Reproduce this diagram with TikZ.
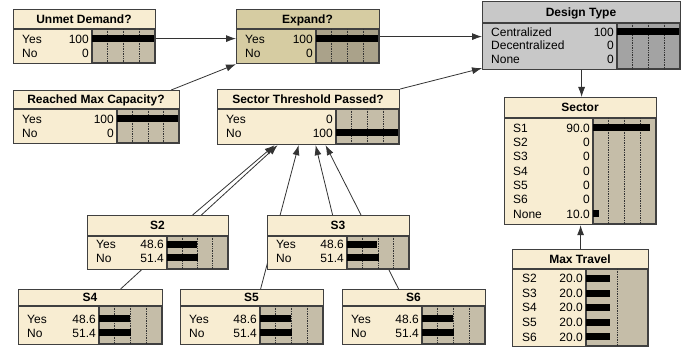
\documentclass[tikz,border=0pt]{standalone}
\usepackage{fontspec}
\setmainfont{Liberation Sans}
\usetikzlibrary{arrows.meta}
\usetikzlibrary{backgrounds}
\definecolor{paper}{RGB}{248,237,210}
\definecolor{barbg}{RGB}{197,189,168}
\definecolor{khaki}{RGB}{214,204,162}
\definecolor{khakibar}{RGB}{170,162,138}
\definecolor{greybox}{RGB}{200,200,200}
\definecolor{greybar}{RGB}{163,163,163}
\definecolor{rim}{RGB}{64,64,64}

\begin{document}
\begin{tikzpicture}[x=1pt,y=-1pt,font=\fontsize{12}{14}\selectfont,>={Latex[length=10pt,width=7pt]}]
		\tikzstyle{netnode}=[draw=rim,line width=1.2pt,fill=paper,inner sep=0pt,anchor=north west]
		\tikzstyle{title}=[anchor=base,inner sep=0pt,font=\fontsize{12}{14}\selectfont\bfseries]
		\tikzstyle{state}=[anchor=base west,inner sep=0pt]
		\tikzstyle{value}=[anchor=base east,inner sep=0pt]
		\tikzstyle{barbox}=[fill=barbg,draw=rim,line width=1.2pt]
		\tikzstyle{rule}=[draw=rim,line width=1.2pt]
		\tikzstyle{grid}=[densely dotted,line width=0.7pt,black!80]
		\tikzstyle{link}=[->,line width=0.8pt,draw=black!80]
		\useasboundingbox (0,0) rectangle (686,352);
		
		% Unmet Demand?
		\node[netnode,minimum width=142pt,minimum height=54pt](ud) at (13,9){};
		\draw[rule] (13,29) -- (155,29);
		\filldraw[barbox] (92,29) rectangle (155,63);
		\draw[grid] (107.75,29) -- (107.75,63);
		\draw[grid] (123.5,29) -- (123.5,63);
		\draw[grid] (139.25,29) -- (139.25,63);
		\fill (92,35.5) rectangle (154.4,42.5);
		\node[title](udt) at (84,23.3){Unmet Demand?};
		\node[state](ud1) at (22,43.3){Yes};
		\node[value](ud1v) at (89,43.3){100};
		\node[state](ud2) at (22,57.3){No};
		\node[value](ud2v) at (89,57.3){0};
		
		% Expand?
		\node[netnode,fill=khaki,minimum width=143pt,minimum height=54pt](ex) at (236,9){};
		\draw[rule] (236,29) -- (379,29);
		\filldraw[barbox,fill=khakibar] (316,29) rectangle (379,63);
		\draw[grid] (331.75,29) -- (331.75,63);
		\draw[grid] (347.5,29) -- (347.5,63);
		\draw[grid] (363.25,29) -- (363.25,63);
		\fill (316,35.5) rectangle (378.4,42.5);
		\node[title](ext) at (307.5,23.3){Expand?};
		\node[state](ex1) at (245,43.3){Yes};
		\node[value](ex1v) at (313,43.3){100};
		\node[state](ex2) at (245,57.3){No};
		\node[value](ex2v) at (313,57.3){0};
		
		% Design Type
		\node[netnode,fill=greybox,minimum width=198pt,minimum height=68pt](dt) at (482,1){};
		\draw[rule] (482,23) -- (680,23);
		\filldraw[barbox,fill=greybar] (617,23) rectangle (680,69);
		\draw[grid] (632.75,23) -- (632.75,69);
		\draw[grid] (648.5,23) -- (648.5,69);
		\draw[grid] (664.25,23) -- (664.25,69);
		\fill (617,28.5) rectangle (679.4,35.5);
		\node[title](dtt) at (581,16.3){Design Type};
		\node[state](dt1) at (491,36.3){Centralized};
		\node[value](dt1v) at (614,36.3){100};
		\node[state](dt2) at (491,49.8){Decentralized};
		\node[value](dt2v) at (614,49.8){0};
		\node[state](dt3) at (491,63.3){None};
		\node[value](dt3v) at (614,63.3){0};
		
		% Reached Max Capacity?
		\node[netnode,minimum width=166pt,minimum height=53pt](rm) at (13,90){};
		\draw[rule] (13,109) -- (179,109);
		\filldraw[barbox] (117,109) rectangle (179,143);
		\draw[grid] (132.5,109) -- (132.5,143);
		\draw[grid] (148,109) -- (148,143);
		\draw[grid] (163.5,109) -- (163.5,143);
		\fill (117,115.5) rectangle (178.4,122.5);
		\node[title](rmt) at (96,103.8){Reached Max Capacity?};
		\node[state](rm1) at (22,123.3){Yes};
		\node[value](rm1v) at (114,123.3){100};
		\node[state](rm2) at (22,137.3){No};
		\node[value](rm2v) at (114,137.3){0};
		
		% Sector Threshold Passed?
		\node[netnode,minimum width=182pt,minimum height=55pt](th) at (217,89){};
		\draw[rule] (217,109) -- (399,109);
		\filldraw[barbox] (336,109) rectangle (399,144);
		\draw[grid] (351.75,109) -- (351.75,144);
		\draw[grid] (367.5,109) -- (367.5,144);
		\draw[grid] (383.25,109) -- (383.25,144);
		\fill (336,129.5) rectangle (398.4,136.5);
		\node[title](tht) at (308,103.3){Sector Threshold Passed?};
		\node[state](th1) at (226,123.3){Yes};
		\node[value](th1v) at (333,123.3){0};
		\node[state](th2) at (226,137.3){No};
		\node[value](th2v) at (333,137.3){100};
		
		% Sector
		\node[netnode,minimum width=152pt,minimum height=127pt](se) at (504,97){};
		\draw[rule] (504,118) -- (656,118);
		\filldraw[barbox] (593,118) rectangle (656,224);
		\draw[grid] (608.75,118) -- (608.75,224);
		\draw[grid] (624.5,118) -- (624.5,224);
		\draw[grid] (640.25,118) -- (640.25,224);
		\fill (593,124.5) rectangle (649.7,131.5);
		\fill (593,210.3) rectangle (599.3,217.3);
		\node[title](set) at (580,111.8){Sector};
		\node[state](se1) at (513,132.3){S1};
		\node[value](se1v) at (590,132.3){90.0};
		\node[state](se2) at (513,146.6){S2};
		\node[value](se2v) at (590,146.6){0};
		\node[state](se3) at (513,160.9){S3};
		\node[value](se3v) at (590,160.9){0};
		\node[state](se4) at (513,175.2){S4};
		\node[value](se4v) at (590,175.2){0};
		\node[state](se5) at (513,189.5){S5};
		\node[value](se5v) at (590,189.5){0};
		\node[state](se6) at (513,203.8){S6};
		\node[value](se6v) at (590,203.8){0};
		\node[state](se7) at (513,218.1){None};
		\node[value](se7v) at (590,218.1){10.0};
		
		% Max Travel
		\node[netnode,minimum width=136pt,minimum height=97pt](mt) at (512,249){};
		\draw[rule] (512,269) -- (648,269);
		\filldraw[barbox] (586,269) rectangle (648,346);
		\draw[grid] (617,269) -- (617,346);
		\fill (586,275) rectangle (610,282);
		\fill (586,289.6) rectangle (610,296.6);
		\fill (586,304.2) rectangle (610,311.2);
		\fill (586,318.8) rectangle (610,325.8);
		\fill (586,333.4) rectangle (610,340.4);
		\node[title](mtt) at (580,263.3){Max Travel};
		\node[state](mt1) at (522,282.8){S2};
		\node[value](mt1v) at (583,282.8){20.0};
		\node[state](mt2) at (522,297.4){S3};
		\node[value](mt2v) at (583,297.4){20.0};
		\node[state](mt3) at (522,312){S4};
		\node[value](mt3v) at (583,312){20.0};
		\node[state](mt4) at (522,326.6){S5};
		\node[value](mt4v) at (583,326.6){20.0};
		\node[state](mt5) at (522,341.2){S6};
		\node[value](mt5v) at (583,341.2){20.0};
		
		% S2
		\node[netnode,minimum width=141pt,minimum height=54pt](s2) at (87,215){};
		\draw[rule] (87,236) -- (228,236);
		\filldraw[barbox] (167,236) rectangle (228,269);
		\draw[grid] (182.25,236) -- (182.25,269);
		\draw[grid] (197.5,236) -- (197.5,269);
		\draw[grid] (212.75,236) -- (212.75,269);
		\fill (167,241) rectangle (196.6,248);
		\fill (167,254.5) rectangle (198.4,261.5);
		\node[title](s2t) at (157.5,229.8){S2};
		\node[state](s21) at (96,248.8){Yes};
		\node[value](s21v) at (164,248.8){48.6};
		\node[state](s22) at (96,262.3){No};
		\node[value](s22v) at (164,262.3){51.4};
		
		% S3
		\node[netnode,minimum width=142pt,minimum height=54pt](s3) at (267,215){};
		\draw[rule] (267,236) -- (409,236);
		\filldraw[barbox] (347,236) rectangle (409,269);
		\draw[grid] (362.5,236) -- (362.5,269);
		\draw[grid] (378,236) -- (378,269);
		\draw[grid] (393.5,236) -- (393.5,269);
		\fill (347,241) rectangle (377.1,248);
		\fill (347,254.5) rectangle (378.9,261.5);
		\node[title](s3t) at (338,229.8){S3};
		\node[state](s31) at (276,248.8){Yes};
		\node[value](s31v) at (344,248.8){48.6};
		\node[state](s32) at (276,262.3){No};
		\node[value](s32v) at (344,262.3){51.4};
		
		% S4
		\node[netnode,minimum width=144pt,minimum height=55pt](s4) at (18,289){};
		\draw[rule] (18,306) -- (162,306);
		\filldraw[barbox] (99,306) rectangle (162,344);
		\draw[grid] (114.75,306) -- (114.75,344);
		\draw[grid] (130.5,306) -- (130.5,344);
		\draw[grid] (146.25,306) -- (146.25,344);
		\fill (99,315.5) rectangle (129.6,322.5);
		\fill (99,329.5) rectangle (131.4,336.5);
		\node[title](s4t) at (90,301.8){S4};
		\node[state](s41) at (27,323.3){Yes};
		\node[value](s41v) at (96,323.3){48.6};
		\node[state](s42) at (27,337.3){No};
		\node[value](s42v) at (96,337.3){51.4};
		
		% S5
		\node[netnode,minimum width=143pt,minimum height=55pt](s5) at (180,289){};
		\draw[rule] (180,306) -- (323,306);
		\filldraw[barbox] (260,306) rectangle (323,344);
		\draw[grid] (275.75,306) -- (275.75,344);
		\draw[grid] (291.5,306) -- (291.5,344);
		\draw[grid] (307.25,306) -- (307.25,344);
		\fill (260,315.5) rectangle (290.6,322.5);
		\fill (260,329.5) rectangle (292.4,336.5);
		\node[title](s5t) at (251.5,301.8){S5};
		\node[state](s51) at (189,323.3){Yes};
		\node[value](s51v) at (257,323.3){48.6};
		\node[state](s52) at (189,337.3){No};
		\node[value](s52v) at (257,337.3){51.4};
		
		% S6
		\node[netnode,minimum width=143pt,minimum height=55pt](s6) at (342,289){};
		\draw[rule] (342,306) -- (485,306);
		\filldraw[barbox] (422,306) rectangle (485,344);
		\draw[grid] (437.75,306) -- (437.75,344);
		\draw[grid] (453.5,306) -- (453.5,344);
		\draw[grid] (469.25,306) -- (469.25,344);
		\fill (422,315.5) rectangle (452.6,322.5);
		\fill (422,329.5) rectangle (454.4,336.5);
		\node[title](s6t) at (413.5,301.8){S6};
		\node[state](s61) at (351,323.3){Yes};
		\node[value](s61v) at (419,323.3){48.6};
		\node[state](s62) at (351,337.3){No};
		\node[value](s62v) at (419,337.3){51.4};
		
		% links, behind the boxes
		\begin{scope}[on background layer]
		\draw[link] ([yshift=-2pt]ud.east) -- ([yshift=-2pt]ex.west);
		\draw[link] ([xshift=-9pt]rm.north east) -- (ex.south west);
		\draw[link] (ex.east) -- (ex.east -| dt.west);
		\draw[link] (th.north east) -- ([yshift=2pt]dt.south west);
		\draw[link] (dt.south) -- (dt.south |- se.north);
		\draw[link] (mt.north) -- (mt.north |- se.south);
		\draw[link] ([xshift=34.5pt]s2.north) -- ([xshift=-34pt]th.south);
		\draw[link] ([xshift=30pt]s4.north) -- ([xshift=-31pt]th.south);
		\draw[link] ([xshift=8.5pt]s5.north) -- ([xshift=-10pt]th.south);
		\draw[link] ([xshift=-6pt]s3.north) -- ([xshift=7pt]th.south);
		\draw[link] ([xshift=-15.5pt]s6.north) -- ([xshift=17pt]th.south);
		\end{scope}
\end{tikzpicture}
\end{document}
